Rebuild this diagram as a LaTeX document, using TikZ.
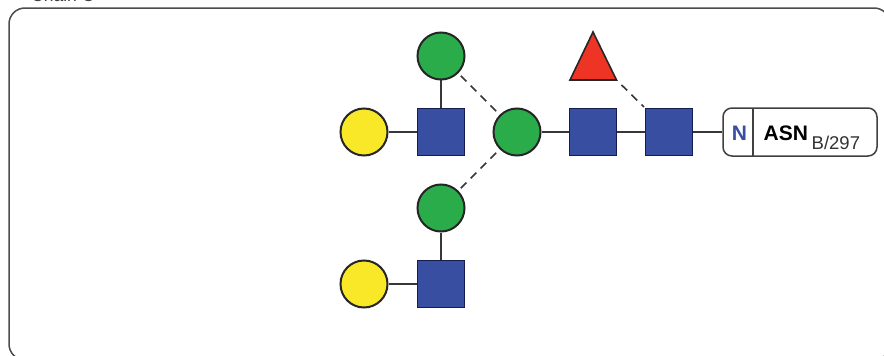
\documentclass[tikz,border=0pt]{standalone}
\usepackage{fontspec}
\setmainfont{Liberation Sans}
\definecolor{gb}{RGB}{56,78,160}
\definecolor{gbd}{RGB}{20,28,80}
\definecolor{gg}{RGB}{43,172,75}
\definecolor{gy}{RGB}{248,232,40}
\definecolor{gr}{RGB}{238,52,36}
\definecolor{ln}{RGB}{55,55,55}
\tikzset{x=1pt,y=-1pt,
 circ/.style={circle,draw=black!85,line width=2pt,minimum size=47pt,inner sep=0pt},
 grn/.style={circ,fill=gg},
 yel/.style={circ,fill=gy},
 sq/.style={rectangle,draw=gbd,line width=1.6pt,fill=gb,minimum size=47pt,inner sep=0pt},
 link/.style={draw=ln,line width=1.5pt},
 dlink/.style={draw=ln,line width=1.6pt,dash pattern=on 8pt off 6pt,shorten <=3.5pt,shorten >=3.5pt},
}
\begin{document}
\begin{tikzpicture}
\useasboundingbox (0,0) rectangle (884,356);
\fill[white] (0,0) rectangle (884,356);
\draw[draw=black!70,line width=1.5pt,rounded corners=16pt] (9,8) rectangle (890,360);
\node[anchor=base west,font=\fontsize{17.5}{18}\selectfont,text=black!75,inner sep=0pt] (chain) at (31,1.5) {Chain C};
\draw[link] (441,56) -- (441,132);
\draw[dlink] (441,56) ++(17.3,17.3) -- (499.7,114.7);
\draw[dlink] (441,208) ++(17.3,-17.3) -- (499.7,149.3);
\node[grn] (g1) at (441,56) {};
\node[sq] (s1) at (441,132) {};
\node[yel] (y1) at (364,132) {};
\node[grn] (g2) at (517,132) {};
\node[sq] (s2) at (593,132) {};
\node[sq] (s3) at (669,132) {};
\node[grn] (g3) at (441,208) {};
\node[sq] (s4) at (441,284) {};
\node[yel] (y2) at (364,284) {};
\coordinate (ta) at (593,32);
\coordinate (tl) at (570,80);
\coordinate (tr) at (616.5,80);
\filldraw[fill=gr,draw=black!85,line width=1.6pt,line join=miter] (ta) -- (tl) -- (tr) -- cycle;
\draw[link] (y1) -- (s1);
\draw[link] (g2) -- (s2);
\draw[link] (s2) -- (s3);
\draw[link] (g3) -- (s4);
\draw[link] (y2) -- (s4);
\draw[dlink,shorten <=7pt,shorten >=1pt] (tr) -- (s3.north west);
\node[draw=black!75,line width=1.5pt,rounded corners=9pt,minimum width=154pt,minimum height=48pt,inner sep=0pt] (asn) at (800,132) {};
\coordinate (dt) at (753,108);
\coordinate (db) at (753,156);
\draw[draw=black!75,line width=1.5pt] (dt) -- (db);
\draw[link] (s3) -- (asn);
\node[anchor=base,font=\bfseries\fontsize{21}{22}\selectfont,text=gb,inner sep=0pt] (n) at (739.5,140) {N};
\node[anchor=base west,font=\bfseries\fontsize{21}{22}\selectfont,text=black,inner sep=0pt] (a) at (763.5,140) {ASN};
\node[anchor=base west,font=\fontsize{18.5}{20}\selectfont,text=black!80,inner sep=0pt] (b) at (811.5,149) {B/297};
\end{tikzpicture}
\end{document}
